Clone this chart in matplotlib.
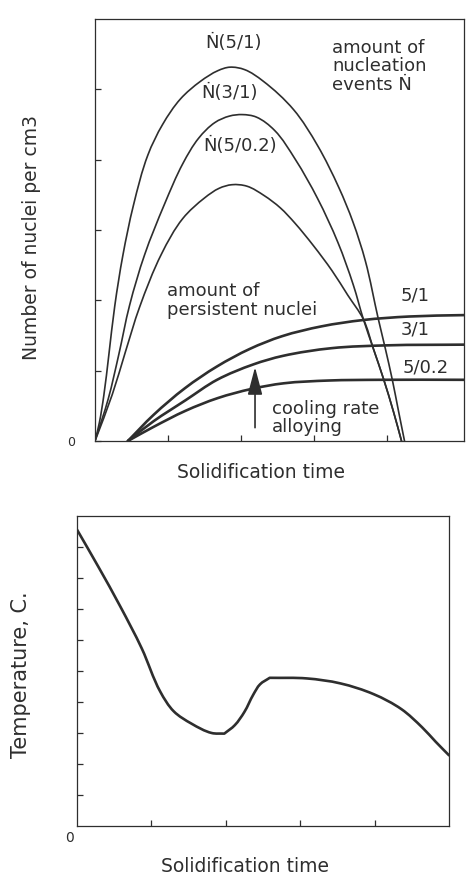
import numpy as np
import matplotlib
matplotlib.use("Agg")
import matplotlib.pyplot as plt
from matplotlib.path import Path
from matplotlib.patches import PathPatch

# nucleation rate curves N-dot (cooling rate / alloying)
n51_x = [0, 0.059, 0.12, 0.188, 0.271, 0.381, 0.526, 0.724, 0.925, 1.17, 1.445, 1.683, 1.844, 2.048,
         2.297, 2.718, 3.047, 3.338, 3.531, 3.70, 3.877, 3.973, 4.07, 4.153, 4.236]
n51_y = [0, 0.257, 0.642, 1.212, 1.924, 2.637, 3.351, 4.067, 4.5, 4.864, 5.115, 5.266, 5.315, 5.28,
         5.12, 4.711, 4.199, 3.601, 3.112, 2.56, 1.736, 1.315, 0.865, 0.429, 0]

n31_x = [0, 0.182, 0.323, 0.474, 0.679, 0.951, 1.202, 1.419, 1.641, 1.841, 2.016, 2.207, 2.457,
         2.742, 3.046, 3.325, 3.535, 3.674, 3.811, 3.947, 4.086, 4.195]
n31_y = [0, 0.602, 1.217, 1.932, 2.648, 3.367, 3.944, 4.306, 4.528, 4.62, 4.641, 4.606, 4.417,
         4.003, 3.448, 2.821, 2.219, 1.728, 1.308, 0.888, 0.412, 0]

n502_x = [0, 0.236, 0.417, 0.609, 0.909, 1.202, 1.503, 1.701, 1.875, 2.079, 2.314, 2.536, 2.734,
          2.988, 3.244, 3.459, 3.674, 3.811, 3.947, 4.086, 4.195]
n502_y = [0, 0.66, 1.27, 1.90, 2.657, 3.164, 3.459, 3.594, 3.644, 3.623, 3.49, 3.315, 3.10,
          2.779, 2.421, 2.074, 1.728, 1.308, 0.888, 0.412, 0]

# persistent nuclei
p51_x = [0.45, 0.80, 1.23, 1.67, 2.12, 2.56, 3.10, 3.67, 4.30, 5.05]
p51_y = [0, 0.37, 0.75, 1.06, 1.31, 1.49, 1.63, 1.72, 1.77, 1.79]

p31_x = [0.45, 0.80, 1.24, 1.67, 2.17, 2.57, 3.24, 4.00, 5.05]
p31_y = [0, 0.28, 0.58, 0.87, 1.09, 1.21, 1.32, 1.36, 1.37]

p502_x = [0.45, 0.80, 1.24, 1.68, 2.14, 2.58, 3.20, 3.89, 5.05]
p502_y = [0, 0.20, 0.43, 0.61, 0.74, 0.82, 0.86, 0.87, 0.87]

# temperature during solidification (cooling, undercooling minimum, recalescence)
temp_x = [0, 0.29, 0.58, 0.87, 1.12, 1.30, 1.54, 1.81, 1.98, 2.12, 2.25, 2.37, 2.46, 2.59, 3.09, 3.54, 3.99, 4.36, 4.64, 4.82, 5.0]
temp_y = [9.56, 8.35, 7.09, 5.73, 4.33, 3.70, 3.30, 3.00, 2.98, 3.25, 3.68, 4.24, 4.57, 4.78, 4.76, 4.60, 4.25, 3.77, 3.18, 2.72, 2.28]
temp_corners = [8, 13]   # undercooling minimum and end of recalescence

ink = '#2e2e2e'
W, H = 469, 881


def smooth_curve(ax, xs, ys, lw, corners=()):
    # bezier through the points; tangents taken in screen space so that
    # uneven point spacing does not make bumps. No shared tangent at corners.
    x0, x1 = ax.get_xlim()
    y0, y1 = ax.get_ylim()
    bb = ax.get_window_extent()
    sx = bb.width / (x1 - x0)
    sy = bb.height / (y1 - y0)
    P = np.column_stack([np.asarray(xs) * sx, np.asarray(ys) * sy])
    n = len(P)
    seg = P[1:] - P[:-1]
    length = np.hypot(seg[:, 0], seg[:, 1])
    unit = seg / length[:, None]
    t_in = np.zeros_like(P)
    t_out = np.zeros_like(P)
    for i in range(n):
        if i == 0:
            t_out[i] = unit[0]
        elif i == n - 1:
            t_in[i] = unit[-1]
        elif i in corners:
            t_in[i] = unit[i - 1]
            t_out[i] = unit[i]
        else:
            t = unit[i - 1] + unit[i]
            t /= np.hypot(*t)
            t_in[i] = t
            t_out[i] = t
    verts = [P[0]]
    codes = [Path.MOVETO]
    for i in range(n - 1):
        d = length[i] / 3
        verts += [P[i] + t_out[i] * d, P[i + 1] - t_in[i + 1] * d, P[i + 1]]
        codes += [Path.CURVE4] * 3
    verts = np.array(verts) / [sx, sy]
    patch = PathPatch(Path(verts, codes), fill=False, ec=ink, lw=lw,
                      capstyle='round', joinstyle='round')
    ax.add_patch(patch)


def frame(ax):
    for s in ax.spines.values():
        s.set_linewidth(0.9)
        s.set_color(ink)
    ax.tick_params(direction='in', length=4, width=0.9, color=ink,
                   labelsize=9, labelcolor=ink)


fig = plt.figure(figsize=(W / 100, H / 100), dpi=100)
fig.patch.set_facecolor('white')

# ---- top panel: number of nuclei ----
ax1 = fig.add_axes([95 / W, 1 - 441 / H, (464 - 95) / W, (441 - 19) / H])
frame(ax1)
ax1.set_xlim(0, 5.05)
ax1.set_ylim(0, 6)
ax1.set_xticks([1, 2, 3, 4])
ax1.set_xticklabels([])
ax1.set_yticks([0, 1, 2, 3, 4, 5])
ax1.set_yticklabels(['0', '', '', '', '', ''])
ax1.tick_params(axis='y', pad=14)

for xs, ys in [(n51_x, n51_y), (n31_x, n31_y), (n502_x, n502_y)]:
    smooth_curve(ax1, xs, ys, 1.2)
for xs, ys in [(p51_x, p51_y), (p31_x, p31_y), (p502_x, p502_y)]:
    smooth_curve(ax1, xs, ys, 1.9)

tkw = dict(color=ink, fontsize=13)
ax1.text(1.89, 5.66, 'Ṅ(5/1)', ha='center', va='center', **tkw)
ax1.text(1.84, 4.95, 'Ṅ(3/1)', ha='center', va='center', **tkw)
ax1.text(1.98, 4.20, 'Ṅ(5/0.2)', ha='center', va='center', **tkw)
ax1.text(3.25, 5.72, 'amount of\nnucleation\nevents Ṅ', ha='left', va='top',
         linespacing=1.05, **tkw)
ax1.text(0.98, 2.26, 'amount of\npersistent nuclei', ha='left', va='top',
         linespacing=1.05, **tkw)
ax1.text(4.38, 2.07, '5/1', ha='center', va='center', **tkw)
ax1.text(4.38, 1.59, '3/1', ha='center', va='center', **tkw)
ax1.text(4.52, 1.04, '5/0.2', ha='center', va='center', **tkw)
ax1.text(2.42, 0.58, 'cooling rate\nalloying', ha='left', va='top',
         linespacing=1.0, **tkw)

ax1.annotate('', xy=(2.19, 1.09), xytext=(2.19, 0.15),
             arrowprops=dict(arrowstyle='-|>,head_length=1.7,head_width=0.45',
                             mutation_scale=10, lw=1.2, color=ink, fc=ink))

fig.text(261 / W, 1 - 473 / H, 'Solidification time', ha='center', va='center',
         color=ink, fontsize=13.5)
fig.text(32 / W, 1 - 238 / H, 'Number of nuclei per cm3', ha='center', va='center',
         rotation=90, color=ink, fontsize=13.5)

# ---- bottom panel: temperature ----
ax2 = fig.add_axes([77 / W, 1 - 826 / H, (449 - 77) / W, (826 - 516) / H])
frame(ax2)
ax2.set_xlim(0, 5.0)
ax2.set_ylim(0, 10)
ax2.set_xticks([1, 2, 3, 4])
ax2.set_xticklabels([])
ax2.set_yticks(range(1, 10))
ax2.set_yticklabels([])
smooth_curve(ax2, temp_x, temp_y, 1.9, corners=temp_corners)

fig.text(70 / W, 1 - 838 / H, '0', ha='center', va='center', color=ink, fontsize=10)
fig.text(245 / W, 1 - 867 / H, 'Solidification time', ha='center', va='center',
         color=ink, fontsize=13.5)
fig.text(21 / W, 1 - 675 / H, 'Temperature, C.', ha='center', va='center',
         rotation=90, color=ink, fontsize=15)

fig.savefig('out.png', dpi=100, facecolor='white')
